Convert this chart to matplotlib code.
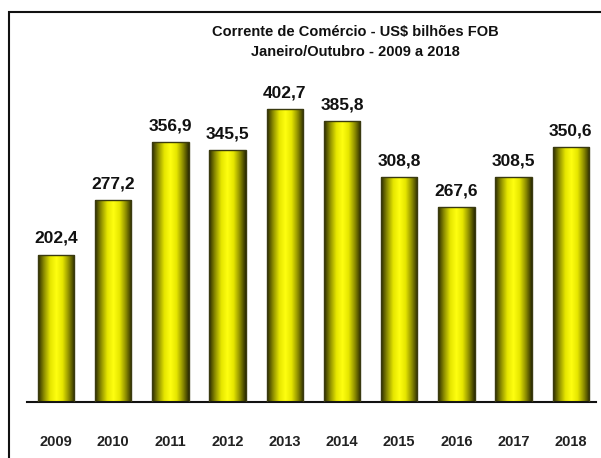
import numpy as np
import matplotlib
matplotlib.use("Agg")
import matplotlib.pyplot as plt
from matplotlib.colors import LinearSegmentedColormap
from matplotlib.patches import Rectangle

years = ["2009", "2010", "2011", "2012", "2013", "2014", "2015", "2016", "2017", "2018"]
values = [202.4, 277.2, 356.9, 345.5, 402.7, 385.8, 308.8, 267.6, 308.5, 350.6]
labels = ["202,4", "277,2", "356,9", "345,5", "402,7", "385,8", "308,8", "267,6", "308,5", "350,6"]
title = "Corrente de Comércio - US$ bilhões FOB\nJaneiro/Outubro - 2009 a 2018"

W, H = 601, 458
fig = plt.figure(figsize=(W / 100, H / 100), dpi=100)
fig.patch.set_facecolor("white")

fam = ["Liberation Sans Narrow", "Liberation Sans", "DejaVu Sans"]

# axes placement in pixels
x0, x1 = 27, 596
yb, yt = 402, 12
ax = fig.add_axes([x0 / W, 1 - yb / H, (x1 - x0) / W, (yb - yt) / H])
xmin, xmax = -0.506, (x1 - 56) / 57.2
ax.set_xlim(xmin, xmax)
ax.set_ylim(0, (yb - yt) / 0.728)
for s in ["left", "right", "top"]:
    ax.spines[s].set_visible(False)
ax.spines["bottom"].set_linewidth(1.5)
ax.spines["bottom"].set_color("#111111")
ax.set_yticks([])
ax.set_xticks(range(len(years)))
ax.set_xticklabels(years, fontsize=10.5, fontweight="bold", family=fam, color="#222222")
ax.tick_params(axis="x", length=0, pad=24)
ax.patch.set_alpha(0)

cmap = LinearSegmentedColormap.from_list(
    "cyl", ["#2a2a00", "#8f8f00", "#e6e600", "#ffff10", "#e6e600", "#8f8f00", "#2a2a00"])
grad = np.linspace(0, 1, 256).reshape(1, -1)

bw = 0.635
bars = ax.bar(range(len(years)), values, width=bw, color="none",
              edgecolor="#3a3a10", linewidth=1.0, zorder=3)
for b, v, lab in zip(bars, values, labels):
    x = b.get_x()
    im = ax.imshow(grad, cmap=cmap, aspect="auto", extent=[x, x + bw, 0, v],
                   zorder=2, interpolation="bilinear")
    im.set_clip_path(b)
    ax.text(x + bw / 2, v + 12, lab, ha="center", va="bottom", fontsize=12.5,
            fontweight="bold", family=fam, color="#111111")

ax.set_xlim(xmin, xmax)
ax.set_ylim(0, (yb - yt) / 0.728)

fig.text(355 / W, 1 - 42 / H, title, ha="center", va="center", fontsize=10.5,
         fontweight="bold", family=fam, color="#111111", linespacing=1.55)

fig.patches.append(Rectangle((9 / W, -0.1), 1.2, 1.1 - 12 / H,
                             transform=fig.transFigure, fill=False,
                             edgecolor="#111111", linewidth=1.5))

fig.savefig("out.png", dpi=100)
